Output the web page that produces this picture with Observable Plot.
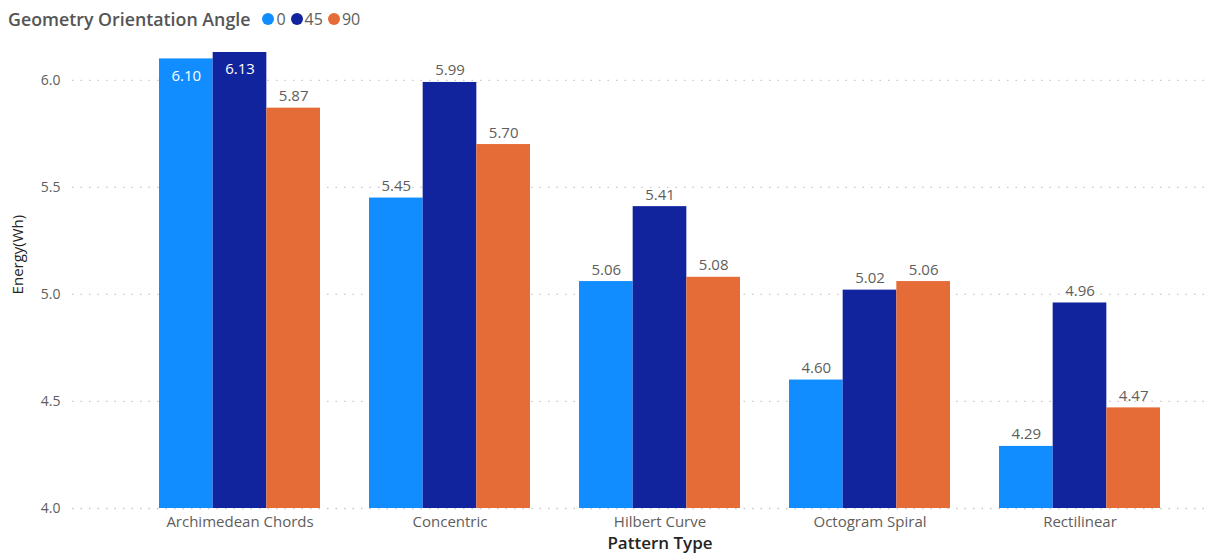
<!DOCTYPE html>
<html><head><meta charset="utf-8">
<script src="https://cdn.jsdelivr.net/npm/d3@7"></script>
<script src="https://cdn.jsdelivr.net/npm/@observablehq/plot@0.6"></script>
<style>
body{margin:0;background:#fff;font-family:"Open Sans",sans-serif;}
#wrap{position:relative;width:1211px;height:560px;}
#legend{position:absolute;left:8px;top:7px;display:flex;align-items:center;font-size:16px;color:#605E5C;white-space:nowrap;}
#legend .t{font-weight:600;font-size:17.8px;color:#555;margin-right:12px;}
#legend .i{display:flex;align-items:center;margin-right:5px;}
#legend .d{width:12px;height:12px;border-radius:50%;display:inline-block;margin-right:2px;}
</style></head><body>
<div id="wrap"><div id="legend"></div><div id="chart"></div></div>
<script>
const categories = ["Archimedean Chords","Concentric","Hilbert Curve","Octogram Spiral","Rectilinear"];
const angles = ["0","45","90"];
const values0  = [6.10, 5.45, 5.06, 4.60, 4.29];
const values45 = [6.13, 5.99, 5.41, 5.02, 4.96];
const values90 = [5.87, 5.70, 5.08, 5.06, 4.47];
const colors = ["#118DFF","#12239E","#E66C37"];
const yTicks = [4.0, 4.5, 5.0, 5.5, 6.0];
const baseline = 4.0;
const legendTitle = "Geometry Orientation Angle";

const series = [values0, values45, values90];
const data = [];
angles.forEach((a,k)=>categories.forEach((c,i)=>data.push({category:c, angle:a, k, value:series[k][i]})));

const lg = document.getElementById("legend");
lg.innerHTML = `<span class="t">${legendTitle}</span>` + angles.map((a,k)=>`<span class="i"><span class="d" style="background:${colors[k]}"></span>${a}</span>`).join("");

const W = 1211, H = 560;
const xOpts = {domain: categories, paddingInner: 0.233, paddingOuter: 0.326, align: 0.635};
function build(bw){
  const marks = [
    Plot.gridY(yTicks, {stroke:"#c8c8c8", strokeOpacity:1, strokeDasharray:"1.5,7", strokeWidth:1.3}),
    Plot.axisY(yTicks, {tickFormat: d=>d.toFixed(1), tickSize:0, tickPadding:12, label:null, fill:"#605E5C", fontSize:14}),
    Plot.axisX({tickSize:0, tickPadding:8, label:null, fill:"#605E5C", fontSize:15}),
  ];
  angles.forEach((a,k)=>{
    const sub = data.filter(d=>d.angle===a);
    marks.push(Plot.barY(sub, {x:"category", y1:()=>baseline, y2:"value", fill:colors[k],
      insetLeft: k*bw/3, insetRight:(2-k)*bw/3}));
    const dx = (k-1)*bw/3;
    marks.push(Plot.text(sub.filter(d=>d.value<6.0), {x:"category", y:"value", text:d=>d.value.toFixed(2), dx, dy:-7, lineAnchor:"bottom", fill:"#605E5C", fontSize:15}));
    marks.push(Plot.text(sub.filter(d=>d.value>=6.0), {x:"category", y:"value", text:d=>d.value.toFixed(2), dx, dy:11, lineAnchor:"top", fill:"#fff", fontSize:15}));
  });
  marks.push(Plot.text(["Energy(Wh)"], {y:()=>5.0, frameAnchor:"left", dx:-54, rotate:-90, fill:"#252423", fontSize:15}));
  marks.push(Plot.text(["Pattern Type"], {x:()=>categories[2], frameAnchor:"bottom", dy:40, fill:"#252423", fontSize:17, fontWeight:600}));
  return Plot.plot({
    width: W, height: H,
    marginLeft: 72, marginRight: 1, marginTop: 37, marginBottom: 52,
    style: {fontFamily: '"Open Sans", sans-serif', background:"transparent"},
    x: {...xOpts, axis: null},
    y: {domain:[4, 6.2], axis: null},
    marks
  });
}
let p = build(161);
const bw = p.scale("x").bandwidth;
p = build(bw);
document.getElementById("chart").appendChild(p);
</script>
</body></html>
